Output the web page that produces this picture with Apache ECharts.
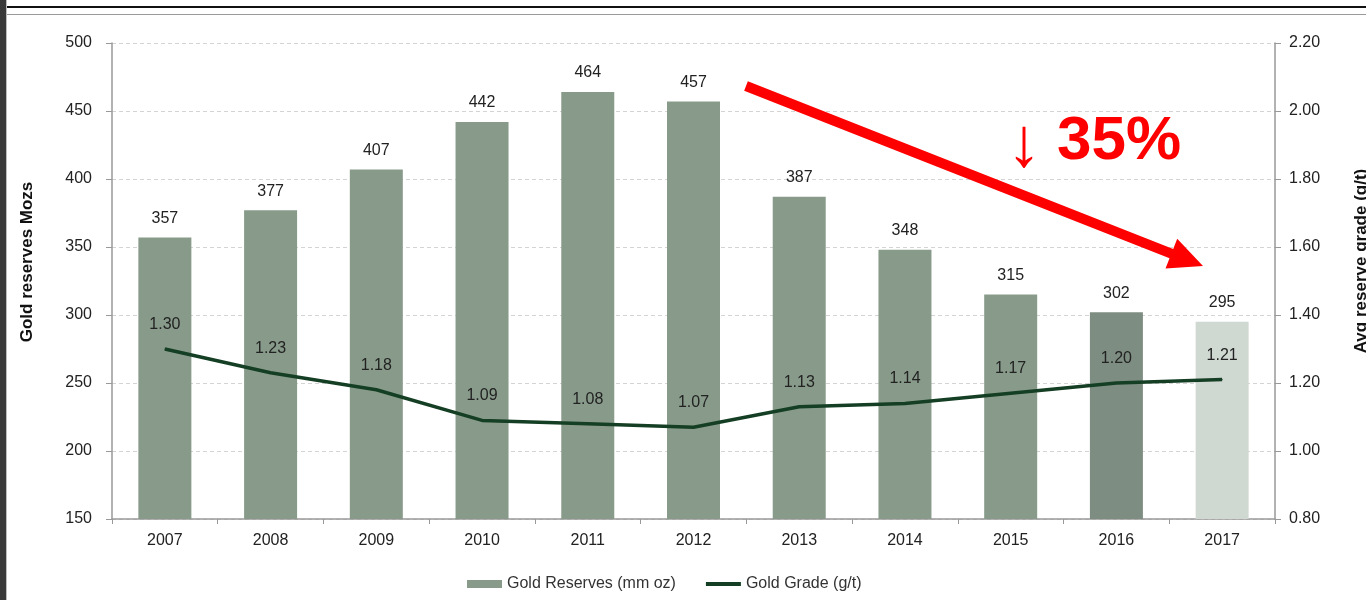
<!DOCTYPE html>
<html>
<head>
<meta charset="utf-8">
<script src="https://cdn.jsdelivr.net/npm/echarts@6/dist/echarts.min.js"></script>
<style>
  html, body { margin: 0; padding: 0; background: #ffffff; }
  #chart { width: 1366px; height: 600px; }
</style>
</head>
<body>
<div id="chart"></div>
<script>
// Gold reserves (Moz) and average reserve grade (g/t), 2007-2017
const years = ['2007', '2008', '2009', '2010', '2011', '2012', '2013', '2014', '2015', '2016', '2017'];
const reserves = [357, 377, 407, 442, 464, 457, 387, 348, 315, 302, 295];
const grade = [1.30, 1.23, 1.18, 1.09, 1.08, 1.07, 1.13, 1.14, 1.17, 1.20, 1.21];
const reserveTicks = [150, 500, 50];
const gradeTicks = [0.8, 2.2, 0.2];

const BAR = '#889b8a';
const BAR_2016 = '#7d8d82';
const BAR_2017 = '#d0d8d2';
const LINE = '#153f24';
const TXT = '#222222';
const FONT = '"Liberation Sans", Arial, sans-serif';

const chart = echarts.init(document.getElementById('chart'));

const barData = reserves.map((v, i) => {
  let c = BAR;
  if (years[i] === '2016') c = BAR_2016;
  if (years[i] === '2017') c = BAR_2017;
  return { value: v, itemStyle: { color: c } };
});

// Trend arrow from 2012 towards 2017
function arrowShape(x1, y1, x2, y2, shaft, headLen, headHalf) {
  const dx = x2 - x1, dy = y2 - y1;
  const len = Math.sqrt(dx * dx + dy * dy);
  const ux = dx / len, uy = dy / len;
  const nx = -uy, ny = ux;
  const bx = x2 - ux * headLen, by = y2 - uy * headLen;
  const h = shaft / 2;
  return [
    [x1 + nx * h, y1 + ny * h],
    [bx + nx * h, by + ny * h],
    [bx + nx * headHalf, by + ny * headHalf],
    [x2, y2],
    [bx - nx * headHalf, by - ny * headHalf],
    [bx - nx * h, by - ny * h],
    [x1 - nx * h, y1 - ny * h]
  ];
}

const axisLabel = { color: TXT, fontSize: 16, fontFamily: FONT };

chart.setOption({
  backgroundColor: '#ffffff',
  animation: false,
  textStyle: { fontFamily: FONT },
  grid: { left: 112, right: 91, top: 43, bottom: 81 },
  legend: {
    left: 462,
    top: 571,
    itemGap: 30,
    itemWidth: 35,
    itemHeight: 8,
    textStyle: { color: '#333', fontSize: 16, fontFamily: FONT },
    data: [
      { name: 'Gold Reserves (mm oz)', icon: 'rect' },
      { name: 'Gold Grade (g/t)', icon: 'path://M0,0h36v4h-36z', itemStyle: { color: LINE } }
    ]
  },
  xAxis: {
    type: 'category',
    data: years,
    axisLine: { lineStyle: { color: '#999', width: 1.5 } },
    axisTick: { show: true, length: 5, lineStyle: { color: '#999' } },
    axisLabel: Object.assign({ margin: 14 }, axisLabel),
    splitLine: { show: false }
  },
  yAxis: [
    {
      type: 'value',
      min: reserveTicks[0],
      max: reserveTicks[1],
      interval: reserveTicks[2],
      axisLine: { show: true, lineStyle: { color: '#999', width: 1.5 } },
      axisTick: { show: true, length: 6, lineStyle: { color: '#999' } },
      axisLabel: Object.assign({ margin: 20 }, axisLabel),
      splitLine: { lineStyle: { color: '#d4d4d4', type: [4, 3] } }
    },
    {
      type: 'value',
      min: gradeTicks[0],
      max: gradeTicks[1],
      interval: gradeTicks[2],
      axisLine: { show: true, lineStyle: { color: '#999', width: 1.5 } },
      axisTick: { show: true, length: 6, lineStyle: { color: '#999' } },
      axisLabel: Object.assign({ margin: 14, formatter: v => v.toFixed(2) }, axisLabel),
      splitLine: { show: false }
    }
  ],
  series: [
    {
      name: 'Gold Reserves (mm oz)',
      type: 'bar',
      yAxisIndex: 0,
      barWidth: 53,
      itemStyle: { color: BAR },
      data: barData,
      label: {
        show: true,
        position: 'top',
        distance: 11,
        color: TXT,
        fontSize: 16,
        fontFamily: FONT
      }
    },
    {
      name: 'Gold Grade (g/t)',
      type: 'line',
      yAxisIndex: 1,
      data: grade,
      symbol: 'circle',
      symbolSize: 1,
      showSymbol: true,
      lineStyle: { color: LINE, width: 3.5 },
      itemStyle: { color: LINE },
      label: {
        show: true,
        position: 'top',
        distance: 16,
        color: TXT,
        fontSize: 16,
        fontFamily: FONT,
        formatter: p => p.value.toFixed(2)
      },
      z: 3
    }
  ],
  graphic: [
    // dark edge on the left
    { type: 'rect', shape: { x: 0, y: 0, width: 6, height: 600 }, style: { fill: '#3a3a3a' }, silent: true },
    { type: 'rect', shape: { x: 6, y: 0, width: 1, height: 600 }, style: { fill: '#bdbdbd' }, silent: true },
    // header rules
    { type: 'rect', shape: { x: 7, y: 6, width: 1359, height: 2 }, style: { fill: '#111' }, silent: true },
    { type: 'rect', shape: { x: 7, y: 14, width: 1359, height: 1 }, style: { fill: '#9a9a9a' }, silent: true },
    // axis titles
    {
      type: 'text', x: 27, y: 262, rotation: Math.PI / 2,
      style: { text: 'Gold reserves Mozs', font: 'bold 17px ' + FONT, fill: '#111', align: 'center', verticalAlign: 'middle' },
      silent: true
    },
    {
      type: 'text', x: 1361, y: 261, rotation: Math.PI / 2,
      style: { text: 'Avg reserve grade (g/t)', font: 'bold 17px ' + FONT, fill: '#111', align: 'center', verticalAlign: 'middle' },
      silent: true
    },
    // decline annotation
    {
      type: 'polygon',
      shape: { points: arrowShape(746, 86, 1203, 266, 10, 34, 16) },
      style: { fill: '#ff0000' },
      z: 10, silent: true
    },
    {
      type: 'text', x: 1024, y: 147,
      style: { text: '↓', font: '70px "Liberation Sans", sans-serif', fill: '#ff0000', align: 'center', verticalAlign: 'middle' },
      z: 10, silent: true
    },
    {
      type: 'text', x: 1057, y: 142,
      style: { text: '35%', font: 'bold 62px ' + FONT, fill: '#ff0000', align: 'left', verticalAlign: 'middle' },
      z: 10, silent: true
    }
  ]
});
</script>
</body>
</html>
